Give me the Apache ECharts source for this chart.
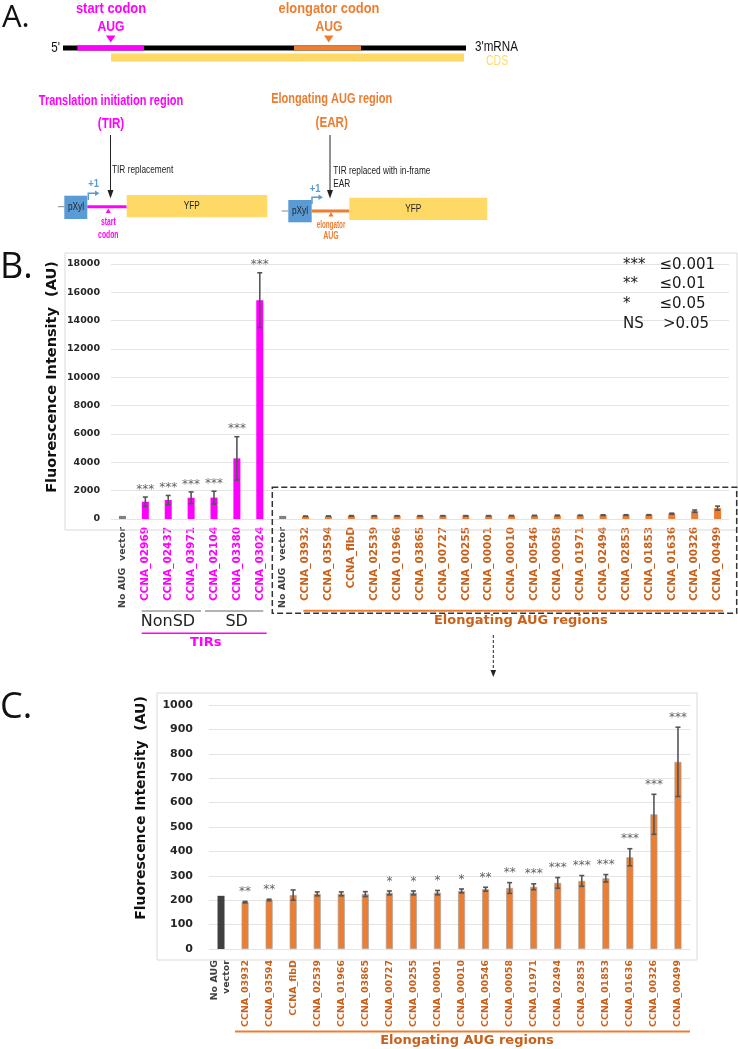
<!DOCTYPE html>
<html><head><meta charset="utf-8">
<script src="https://cdn.jsdelivr.net/npm/echarts@6/dist/echarts.min.js"></script>
<style>html,body{margin:0;padding:0;background:#fff}#c{width:738px;height:1049px}</style>
</head><body><div id="c"></div>
<script>
// ---------------- DATA ----------------
const noAugName = 'No AUG  vector';
const noAugValue = 218;
const tirNames = ['CCNA_02969','CCNA_02437','CCNA_03971','CCNA_02104','CCNA_03380','CCNA_03024'];
const tirValues = [1220, 1340, 1500, 1510, 4280, 15450];
const tirErrors = [330, 320, 410, 450, 1530, 1930];
const tirSig = ['***','***','***','***','***','***'];
const earNames = ['CCNA_03932','CCNA_03594','CCNA_flbD','CCNA_02539','CCNA_01966','CCNA_03865','CCNA_00727','CCNA_00255','CCNA_00001','CCNA_00010','CCNA_00546','CCNA_00058','CCNA_01971','CCNA_02494','CCNA_02853','CCNA_01853','CCNA_01636','CCNA_00326','CCNA_00499'];
const earValues = [192, 201, 221, 226, 226, 225, 230, 230, 231, 238, 245, 250, 255, 271, 279, 290, 376, 552, 767];
const earErrors = [3, 3, 21, 8, 8, 10, 8, 8, 9, 8, 8, 22, 12, 22, 22, 15, 35, 82, 142];
const earSig = ['**','**','','','','','*','*','*','*','**','**','***','***','***','***','***','***','***'];
const bAxisMin = 0, bAxisMax = 18000, bAxisStep = 2000;
const cAxisMin = 0, cAxisMax = 1000, cAxisStep = 100;
const legendSymbols = ['***','**','*','NS'];
const legendThresholds = ['\u22640.001','\u22640.01','\u22640.05','>0.05'];

// ---------------- COLOURS / FONTS ----------------
const MAG = '#FF00FF', ORG = '#ED7D31', ORGTXT = '#C9611B', YEL = '#FFD966', BLUE = '#5B9BD5';
const F = "'DejaVu Sans', sans-serif";
const NF = "'Liberation Sans', sans-serif";

// ---------------- BUILD ----------------
const bCats = [noAugName, ...tirNames, noAugName + ' ', ...earNames];
const bGroup = ['n', ...tirNames.map(() => 't'), 'n', ...earNames.map(() => 'e')];
const bVals = [noAugValue, ...tirValues, noAugValue, ...earValues];
const bErrs = [0, ...tirErrors, 0, ...earErrors];
const bSig = ['', ...tirSig, '', ...earNames.map(() => '')];
const bColor = { n: '#808080', t: MAG, e: ORG };

const cCats = ['No AUG vector', ...earNames];
const cGroup = ['n', ...earNames.map(() => 'e')];
const cVals = [noAugValue, ...earValues];
const cErrs = [0, ...earErrors];
const cSig = ['', ...earSig];
const cColor = { n: '#404040', e: ORG };

function errSeries(ax, vals, errs) {
  return {
    type: 'custom', xAxisIndex: ax, yAxisIndex: ax, z: 5, silent: true,
    encode: { x: 0, y: 1 },
    data: vals.map((v, i) => [i, v, errs[i]]),
    renderItem(params, api) {
      const i = api.value(0), v = api.value(1), e = api.value(2);
      if (!e) return null;
      const t = api.coord([i, v + e]), b = api.coord([i, v - e]);
      const w = 2.5, st = { stroke: '#555', lineWidth: 1.6 };
      return { type: 'group', children: [
        { type: 'line', shape: { x1: t[0], y1: t[1], x2: b[0], y2: b[1] }, style: st },
        { type: 'line', shape: { x1: t[0] - w, y1: t[1], x2: t[0] + w, y2: t[1] }, style: st },
        { type: 'line', shape: { x1: b[0] - w, y1: b[1], x2: b[0] + w, y2: b[1] }, style: st }
      ]};
    }
  };
}
function sigSeries(ax, vals, errs, sig, dist) {
  return {
    type: 'scatter', xAxisIndex: ax, yAxisIndex: ax, symbolSize: 1, z: 6, silent: true,
    itemStyle: { color: 'rgba(0,0,0,0)' },
    data: vals.map((v, i) => [i, v + errs[i], sig[i]]),
    label: { show: true, position: 'top', distance: dist, formatter: p => p.value[2],
      fontSize: 12, fontFamily: F, color: '#3a3a3a' }
  };
}

// graphic helpers
function T(x, y, text, o = {}) {
  return { type: 'text', x, y, rotation: o.rot || 0, scaleX: o.sx || 1, silent: true, z: 100,
    style: { text, x: 0, y: 0, fill: o.c || '#222', fontSize: o.s || 12, fontWeight: o.w || 'normal',
      fontFamily: o.f || F, align: o.a || 'center', verticalAlign: 'middle' } };
}
function R(x, y, w, h, fill, o = {}) {
  return { type: 'rect', silent: true, z: o.z || 90, shape: { x, y, width: w, height: h },
    style: { fill, stroke: o.stroke || null, lineWidth: o.lw || 0, lineDash: o.dash || null } };
}
function L(x1, y1, x2, y2, stroke, lw, dash) {
  return { type: 'line', silent: true, z: 95, shape: { x1, y1, x2, y2 }, style: { stroke, lineWidth: lw || 1, lineDash: dash || null } };
}
function P(points, fill) { return { type: 'polygon', silent: true, z: 96, shape: { points }, style: { fill } }; }
function PL(points, stroke, lw) { return { type: 'polyline', silent: true, z: 96, shape: { points }, style: { stroke, lineWidth: lw, fill: null } }; }

const g = [];
// ---- Panel A ----
g.push(T(2, 18, 'A.', { s: 31, a: 'left', f: "'Open Sans', sans-serif", c: '#111' }));
g.push(T(111, 9, 'start codon', { s: 14, w: 'bold', c: MAG, f: NF, sx: 0.92 }));
g.push(T(111, 27, 'AUG', { s: 14, w: 'bold', c: MAG, f: NF, sx: 0.87 }));
g.push(P([[106, 35.5], [115.5, 35.5], [110.7, 42.5]], MAG));
g.push(T(329, 9, 'elongator codon', { s: 14, w: 'bold', c: ORG, f: NF, sx: 0.92 }));
g.push(T(329, 27, 'AUG', { s: 14, w: 'bold', c: ORG, f: NF, sx: 0.87 }));
g.push(P([[324, 35.5], [333.5, 35.5], [328.7, 42.5]], ORG));
g.push(R(63, 45.5, 403, 5, '#000'));
g.push(R(77.3, 45.5, 66.7, 5, MAG, { z: 91 }));
g.push(R(294, 45.5, 67, 5, ORG, { z: 91 }));
g.push(T(60, 48, "5'", { s: 14, a: 'right', f: NF, c: '#111', sx: 0.83 }));
g.push(T(475, 47, "3'mRNA", { s: 14, a: 'left', f: NF, c: '#111', sx: 0.83 }));
g.push(R(111, 53.5, 353, 8, YEL));
g.push(T(486, 61, 'CDS', { s: 14, a: 'left', f: NF, c: YEL, sx: 0.75 }));

g.push(T(111, 101, 'Translation initiation region', { s: 15.5, w: 'bold', c: MAG, f: NF, sx: 0.71 }));
g.push(T(111, 124, '(TIR)', { s: 15.5, w: 'bold', c: MAG, f: NF, sx: 0.75 }));
g.push(L(110.5, 135, 110.5, 192, '#222', 1));
g.push(P([[107.5, 190], [113.5, 190], [110.5, 198.5]], '#222'));
g.push(T(112, 170, 'TIR replacement', { s: 11.5, a: 'left', f: NF, c: '#222', sx: 0.72 }));
g.push(L(58, 206.7, 64.3, 206.7, '#888', 1));
g.push(R(64.3, 195.7, 23, 23.3, BLUE));
g.push(T(76, 207, 'pXyl', { s: 11.5, f: NF, c: '#222', sx: 0.72 }));
g.push(PL([[88.3, 200], [88.3, 193.3], [96, 193.3]], BLUE, 1.5));
g.push(P([[95, 190.5], [99.5, 193.3], [95, 196.1]], BLUE));
g.push(T(93.5, 184, '+1', { s: 11, w: 'bold', c: BLUE, f: NF, sx: 0.85 }));
g.push(R(87.3, 205.3, 39.4, 3, MAG));
g.push(P([[105.8, 213], [110.8, 213], [108.3, 208.5]], MAG));
g.push(T(108.3, 222, 'start', { s: 10, w: 'bold', c: MAG, f: NF, sx: 0.68 }));
g.push(T(108.3, 235, 'codon', { s: 10, w: 'bold', c: MAG, f: NF, sx: 0.68 }));
g.push(R(126.7, 195, 140.6, 22.3, YEL));
g.push(T(191.7, 206, 'YFP', { s: 11.5, f: NF, c: '#222', sx: 0.72 }));

g.push(T(331.7, 99, 'Elongating AUG region', { s: 15.5, w: 'bold', c: ORG, f: NF, sx: 0.71 }));
g.push(T(331.7, 122.3, '(EAR)', { s: 15.5, w: 'bold', c: ORG, f: NF, sx: 0.75 }));
g.push(L(330, 135, 330, 192, '#222', 1));
g.push(P([[327, 190], [333, 190], [330, 198.5]], '#222'));
g.push(T(333.3, 171, 'TIR replaced with in-frame', { s: 11.5, a: 'left', f: NF, c: '#222', sx: 0.72 }));
g.push(T(333.3, 184, 'EAR', { s: 11.5, a: 'left', f: NF, c: '#222', sx: 0.72 }));
g.push(L(281.7, 211, 288.3, 211, '#888', 1));
g.push(R(288.3, 200, 23.4, 22.3, BLUE));
g.push(T(300, 211, 'pXyl', { s: 11.5, f: NF, c: '#222', sx: 0.72 }));
g.push(PL([[312, 204], [312, 197.3], [319.5, 197.3]], BLUE, 1.5));
g.push(P([[318.5, 194.5], [323, 197.3], [318.5, 200.1]], BLUE));
g.push(T(315, 189, '+1', { s: 11, w: 'bold', c: BLUE, f: NF, sx: 0.85 }));
g.push(R(311.7, 209.5, 37.6, 3, ORG));
g.push(P([[328.5, 216.5], [333.5, 216.5], [331, 212]], ORG));
g.push(T(331, 225, 'elongator', { s: 10, w: 'bold', c: ORG, f: NF, sx: 0.63 }));
g.push(T(331, 236.7, 'AUG', { s: 10, w: 'bold', c: ORG, f: NF, sx: 0.7 }));
g.push(R(349.3, 197.7, 138, 22.3, YEL));
g.push(T(413.3, 209, 'YFP', { s: 11.5, f: NF, c: '#222', sx: 0.72 }));

// ---- Panel B ----
g.push(T(0, 268, 'B.', { s: 36, a: 'left', f: "'Open Sans', sans-serif", c: '#111' }));
g.push(R(65, 253, 672, 277, null, { stroke: '#D9D9D9', lw: 1, z: 1 }));
g.push(T(52, 377, 'Fluorescence Intensity  (AU)', { s: 14.5, w: 'bold', rot: Math.PI / 2, c: '#111' }));
legendSymbols.forEach((s, i) => {
  const y = 265 + i * 19.6;
  g.push(T(623, y, s, { s: 15, a: 'left', c: '#1a1a1a' }));
  g.push(T(i === 3 ? 663 : 659.5, y, legendThresholds[i], { s: 15, a: 'left', c: '#1a1a1a' }));
});
g.push(L(141.7, 611, 201, 611, '#666', 1));
g.push(L(205, 611, 263.3, 611, '#666', 1));
g.push(T(168, 621.5, 'NonSD', { s: 16, c: '#222' }));
g.push(T(236.7, 621.5, 'SD', { s: 16, c: '#222' }));
g.push(L(141.7, 633.3, 266.7, 633.3, MAG, 1.5));
g.push(T(205.7, 642.5, 'TIRs', { s: 13, w: 'bold', c: MAG }));
g.push(R(272.3, 487.3, 464.4, 126, null, { stroke: '#333', lw: 1.5, dash: [6, 3], z: 80 }));
g.push(L(303.3, 610.7, 723.3, 610.7, ORG, 2));
g.push(T(520.8, 620.5, 'Elongating AUG regions', { s: 13, w: 'bold', c: ORGTXT }));
g.push(L(493.3, 635, 493.3, 671, '#222', 1, [3, 2]));
g.push(P([[490.5, 670], [496.1, 670], [493.3, 677]], '#222'));

// ---- Panel C ----
g.push(T(0, 708, 'C.', { s: 36, a: 'left', f: "'Open Sans', sans-serif", c: '#111' }));
g.push(R(157, 693, 540, 267, null, { stroke: '#D9D9D9', lw: 1, z: 1 }));
g.push(T(141, 808, 'Fluorescence Intensity  (AU)', { s: 14, w: 'bold', rot: Math.PI / 2, c: '#111' }));
g.push(L(235, 1031.5, 690, 1031.5, ORG, 2));
g.push(T(467, 1041, 'Elongating AUG regions', { s: 13, w: 'bold', c: ORGTXT }));

const yAxisCommon = (s, margin) => ({
  axisLine: { show: false }, axisTick: { show: false },
  axisLabel: { fontSize: s, fontWeight: 'bold', color: '#262626', margin, fontFamily: F, formatter: v => String(v) },
  splitLine: { lineStyle: { color: '#E4E4E4', width: 1 } }
});

const option = {
  animation: false,
  backgroundColor: '#fff',
  grid: [
    { left: 111, right: 9, top: 264, bottom: 530 },
    { left: 209, right: 48, top: 705, bottom: 100 }
  ],
  xAxis: [
    { gridIndex: 0, type: 'category', data: bCats, axisLine: { show: false }, axisTick: { show: false },
      axisLabel: { interval: 0, rotate: 90, margin: 8,
        formatter: (v, i) => '{' + bGroup[i] + '|' + v.trim() + '}',
        rich: {
          n: { fontSize: 9.5, fontWeight: 'bold', color: '#404040', fontFamily: F },
          t: { fontSize: 10.5, fontWeight: 'bold', color: MAG, fontFamily: F },
          e: { fontSize: 10.5, fontWeight: 'bold', color: ORGTXT, fontFamily: F }
        } } },
    { gridIndex: 1, type: 'category', data: cCats, axisLine: { show: false }, axisTick: { show: false },
      axisLabel: { interval: 0, rotate: 90, margin: 11,
        formatter: (v, i) => cGroup[i] === 'n' ? '{n|No AUG}\n{n|vector}' : '{e|' + v + '}',
        rich: {
          n: { fontSize: 9.5, fontWeight: 'bold', color: '#404040', fontFamily: F, lineHeight: 12 },
          e: { fontSize: 9.5, fontWeight: 'bold', color: ORGTXT, fontFamily: F }
        } } }
  ],
  yAxis: [
    Object.assign({ gridIndex: 0, type: 'value', min: bAxisMin, max: bAxisMax, interval: bAxisStep }, yAxisCommon(9.5, 11)),
    Object.assign({ gridIndex: 1, type: 'value', min: cAxisMin, max: cAxisMax, interval: cAxisStep }, yAxisCommon(11, 16))
  ],
  series: [
    { type: 'bar', xAxisIndex: 0, yAxisIndex: 0, barWidth: 7, silent: true,
      data: bVals.map((v, i) => ({ value: v, itemStyle: { color: bColor[bGroup[i]] } })) },
    errSeries(0, bVals, bErrs),
    sigSeries(0, bVals, bErrs, bSig, 1),
    { type: 'bar', xAxisIndex: 1, yAxisIndex: 1, barWidth: 7, silent: true,
      data: cVals.map((v, i) => ({ value: v, itemStyle: { color: cColor[cGroup[i]],
        borderColor: cGroup[i] === 'e' ? '#A6A6A6' : null, borderWidth: cGroup[i] === 'e' ? 0.7 : 0 } })) },
    errSeries(1, cVals, cErrs),
    sigSeries(1, cVals, cErrs, cSig, 3)
  ],
  graphic: { elements: g }
};
const chart = echarts.init(document.getElementById('c'), null, { width: 738, height: 1049 });
chart.setOption(option);
</script></body></html>
